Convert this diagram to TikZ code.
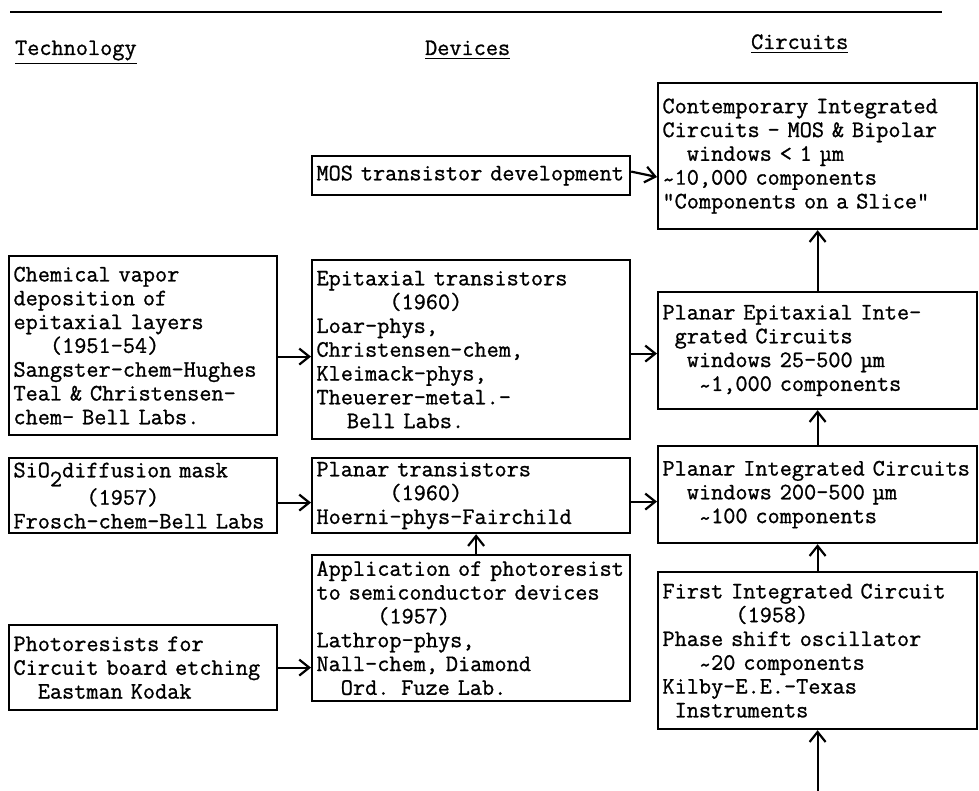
\documentclass[tikz,border=0pt]{standalone}
\usepackage{fontspec}
\setmonofont[FakeBold=1]{Latin Modern Mono}
\usetikzlibrary{arrows.meta}

\newcommand\indt[1]{\hspace*{#1\fontcharwd\font`x}}
\newcommand\apx{\raisebox{-0.25ex}{\textasciitilde}}

\begin{document}
\begin{tikzpicture}[
  x=0.5pt,y=-0.5pt,
  box/.style={draw,rectangle,anchor=north west,align=left,inner xsep=2.2pt,inner ysep=0pt,
    font=\ttfamily\fontsize{11.8}{11.9}\selectfont},
  techbox/.style={box,text width=129.6pt},
  devbox/.style={box,text width=154.6pt},
  circbox/.style={box,text width=155.1pt},
  head/.style={anchor=base west,inner sep=0pt,font=\ttfamily\fontsize{11.8}{12}\selectfont},
  every path/.style={line width=1.1pt},
  >={Straight Barb[length=5pt,width=8pt]}
]
  \useasboundingbox (0,0) rectangle (979,791);
  \draw[line width=1.3pt] (10,12) -- (942,12);

  \node[head] (tech) at (14,55) {\underline{Technology}};
  \node[head] (dev) at (424,55) {\underline{Devices}};
  \node[head] (circ) at (750,49) {\underline{Circuits}};

  \node[circbox,minimum height=73pt] (contemp) at (657,82)
    {Contemporary Integrated\\Circuits - MOS \& Bipolar\\\indt{2}windows < 1 µm\\
     \apx10,000 components\\"Components on a Slice"};
  \node[devbox,minimum height=19.5pt] (mos) at (311,155) {MOS transistor development};

  \node[techbox,minimum height=89.5pt] (chem) at (8,255)
    {Chemical vapor\\deposition of\\epitaxial layers\\\indt{3}(1951-54)\\
     Sangster-chem-Hughes\\Teal \& Christensen-\\chem- Bell Labs.};
  \node[devbox,minimum height=89.5pt] (epit) at (311,259)
    {Epitaxial transistors\\\indt{6}(1960)\\Loar-phys,\\Christensen-chem,\\
     Kleimack-phys,\\Theuerer-metal.-\\\indt{2.5}Bell Labs.};
  \node[circbox,minimum height=58.5pt] (planepi) at (657,291)
    {Planar Epitaxial Inte-\\\indt{1}grated Circuits\\\indt{2}windows 25-500 µm\\
     \indt{3}\apx1,000 components};

  \node[techbox,minimum height=37.5pt] (sio) at (8,457)
    {SiO\raisebox{-4.5pt}{2}diffusion mask\\\indt{6}(1957)\\Frosch-chem-Bell Labs};
  \node[devbox,minimum height=37.5pt] (plantr) at (311,457)
    {Planar transistors\\\indt{6}(1960)\\Hoerni-phys-Fairchild};
  \node[circbox,minimum height=48.5pt] (planic) at (657,445)
    {Planar Integrated Circuits\\\indt{2}windows 200-500 µm\\\indt{3}\apx100 components};

  \node[devbox,minimum height=73pt] (appl) at (311,554)
    {Application of photoresist\\to semiconductor devices\\\indt{5}(1957)\\
     Lathrop-phys,\\Nall-chem, Diamond\\\indt{2}Ord. Fuze Lab.};
  \node[techbox,minimum height=42.5pt] (photo) at (8,624)
    {Photoresists for\\Circuit board etching\\\indt{2}Eastman Kodak};
  \node[circbox,minimum height=78.5pt] (first) at (657,571)
    {First Integrated Circuit\\\indt{6}(1958)\\Phase shift oscillator\\
     \indt{3}\apx20 components\\Kilby-E.E.-Texas\\\indt{1}Instruments};
  \coordinate (origin) at (first.south |- 0,791);

  \draw[->] (mos.east) ++(0,-4) -- (contemp.west |- 0,177);
  \draw[->] ([yshift=-5.5pt]chem.east) -- ([yshift=-5.5pt]chem.east -| epit.west);
  \draw[->] ([yshift=-2pt]epit.east) -- ([yshift=-2pt]epit.east -| planepi.west);
  \draw[->] ([yshift=-3.5pt]sio.east) -- ([yshift=-3.5pt]sio.east -| plantr.west);
  \draw[->] ([yshift=-3pt]plantr.east) -- ([yshift=-3pt]plantr.east -| planic.west);
  \draw[->] (photo.east) -- (photo.east -| appl.west);
  \draw[->] ([xshift=2.5pt]appl.north) -- ([xshift=2.5pt]plantr.south);
  \draw[->] (planepi.north) -- (contemp.south);
  \draw[->] (planic.north) -- (planepi.south);
  \draw[->] (first.north) -- (planic.south);
  \draw[->] (origin) -- (first.south);
\end{tikzpicture}
\end{document}
